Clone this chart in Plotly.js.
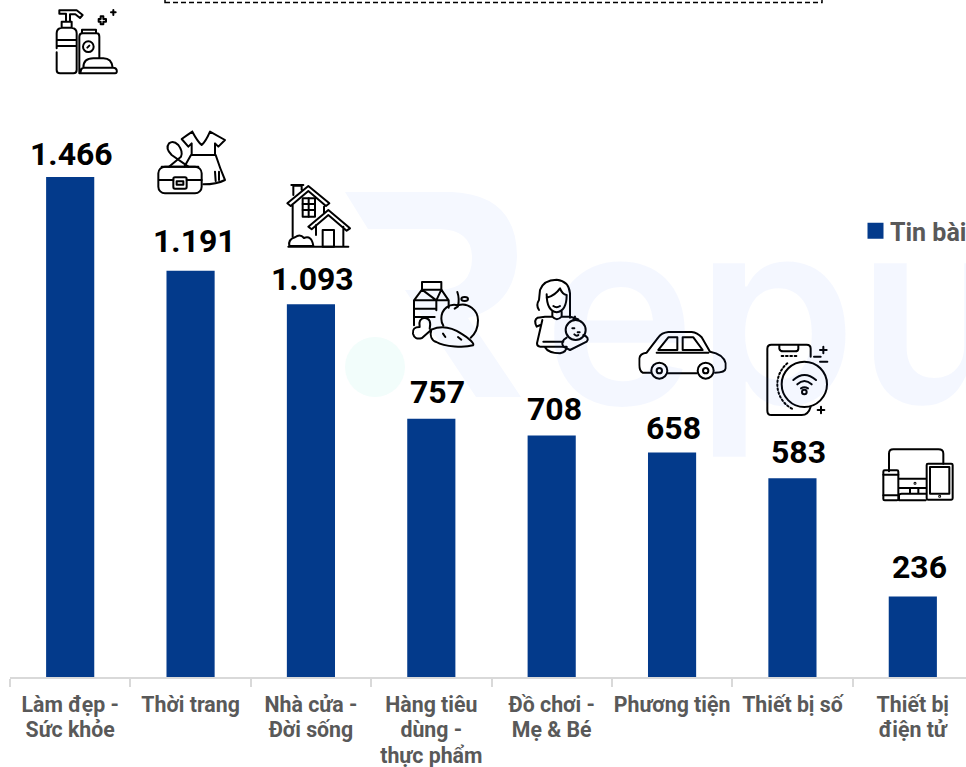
<!DOCTYPE html>
<html><head><meta charset="utf-8">
<script src="https://cdn.plot.ly/plotly-3.0.1.min.js"></script>
<style>html,body{margin:0;padding:0;background:#fff;overflow:hidden;width:966px;height:767px}#c{width:1040px;height:767px}</style>
</head><body><div id="c"></div>
<script>
// ---- data ----
const categories = ["Làm đẹp -<br>Sức khỏe","Thời trang","Nhà cửa -<br>Đời sống","Hàng tiêu<br>dùng -<br>thực phẩm","Đồ chơi -<br>Mẹ & Bé","Phương tiện","Thiết bị số","Thiết bị<br>điện tử"];
const seriesName = "Tin bài";
const values = [1466,1191,1093,757,708,658,583,236];

// ---- layout constants ----
const W=1040,H=767,L=10,R=67,T=0,B=90;
const px=x=>(x-L)/(W-L-R), py=y=>1-(y-T)/(H-T-B);
const labelDx=[1,3.5,1.5,6,3,1,6,6.5];
const labelDy=[23,30,25,27,27,25,26,30];
const fmt=v=>String(v).replace(/\B(?=(\d{3})+$)/g,'.');

// ---- icons: [pixel box x0,y0,x1,y1, viewBox, svg body] ----
const icons=[
[50,5,125,80,"0 0 225 225",`<path d="M28 26V16H80L98 30L90 39L76 28H60V50M28 26H48V50M35 68V50H65V68M20 130V85Q20 70 35 68H65Q80 70 80 85V195Q80 205 70 205H30Q20 205 20 195V142M20 105H80M20 123H80"/><path d="M88 205V95Q88 85 98 85H140Q148 85 148 95V160M96 85V74H138V85M88 205H195Q202 205 200 195Q198 188 190 188H100Q92 190 92 200M100 188Q100 160 130 160H160Q185 160 188 188"/><circle cx="115" cy="125" r="16"/><path d="M112 128L118 122M146 42H152V34H160V42H168V50H160V58H152V50H146Z"/><path d="M190 15V30M183 22H197"/>`],
[155,125,230,200,"0 0 225 225",`<path d="M112 20Q128 50 140 60Q152 50 165 20M112 20Q100 28 80 42L100 65L110 55V90M165 20L210 45L190 65L180 55V90M108 90H182M182 90Q195 130 210 165Q185 178 145 178M180 140L182 168M192 140V165M108 90L88 125"/><rect x="10" y="125" width="130" height="80" rx="20"/><path d="M12 165H55M95 165H140M20 125H130"/><rect x="55" y="157" width="40" height="34" rx="5"/><rect x="65" y="169" width="20" height="10"/><path d="M42 125L78 95Q85 80 70 60Q55 45 42 55Q30 70 50 90L100 125"/>`],
[280,180,355,255,"0 0 225 225",`<path d="M22 70L85 18L148 70L138 78L85 33L32 78ZM40 45V17H65V30M34 15H70M38 72V170M132 80V100"/><rect x="68" y="55" width="37" height="55"/><path d="M86 55V110M68 72H105M68 90H105"/><path d="M85 140L145 90L210 145L200 152L145 105L95 148ZM190 140V200M108 135V165M25 200H205"/><rect x="128" y="150" width="34" height="50"/><path d="M28 198Q24 178 45 172Q60 160 72 174Q95 165 100 198H28Z"/>`],
[408,277,483,352,"0 0 225 225",`<rect x="42" y="15" width="58" height="23"/><path d="M42 38L18 70V145M100 38L122 70V92M42 38L85 70V100M18 70H122M18 95H85M18 120H80M100 38L85 70"/><path d="M150 85C125 78 100 95 100 125C100 135 102 140 106 146M150 85C180 75 210 100 210 130C210 155 200 172 188 182M150 88Q155 65 148 45M150 88L140 95"/><ellipse cx="170" cy="66" rx="10" ry="6"/><path d="M70 158C100 145 130 150 160 170C185 185 200 200 195 205C170 212 110 210 85 195C70 190 65 175 70 158ZM70 158L42 183Q20 190 15 170Q12 150 35 150Q30 125 50 122Q72 125 65 155M105 170L112 180M150 180L160 188"/>`],
[525,275,595,355,"0 0 210 240",`<path d="M42 105Q32 90 42 75L45 45Q55 15 95 14Q132 18 135 55V128"/><path d="M65 58Q65 108 95 112Q125 108 125 60Q112 58 105 40Q90 62 65 68"/><path d="M85 93Q95 100 105 93M82 110V125Q95 140 110 125V110M60 125H80M112 125H135Q150 128 160 133M60 125L38 128Q25 135 35 155L46 150M52 135L36 205Q36 215 46 215H125M55 200H115M60 217Q70 235 105 235Q125 230 125 215"/><circle cx="152" cy="165" r="30"/><path d="M125 188Q105 200 115 215L135 225L185 200Q195 188 175 180M142 160L148 160M158 172L164 172M148 178Q155 185 160 180M145 135L150 125"/>`],
[638.3,329.3,726.7,381,"415 388 265 155",`<path d="M452 518H428Q418 512 418 495V475Q420 460 440 458L475 412Q485 398 505 396H575Q592 398 605 412L630 455Q670 462 677 490V505Q675 518 645 518M504 520H590M470 458H625"/><path d="M475 450L505 412H532V450ZM548 412H580L608 450H548Z"/><circle cx="478" cy="512" r="24"/><circle cx="478" cy="512" r="8"/><circle cx="617" cy="512" r="24"/><circle cx="617" cy="512" r="8"/>`],
[765,342,830,418,"795 426 195 228",`<path d="M932 470V446Q932 434 920 434H814Q802 434 802 446V632Q802 645 814 645H905Q925 645 932 620M838 436V446Q840 454 850 454H885Q895 454 895 446V436"/><path d="M845 468H892" stroke-dasharray="5 8"/><path d="M862 490A82 82 0 0 0 880 628" stroke-dasharray="5 7"/><circle cx="913" cy="553" r="68" fill="#fff"/><path d="M880 540Q913 510 948 540M892 553Q913 533 935 553"/><path d="M903 565Q913 558 924 565"/><circle cx="913" cy="576" r="7"/><path d="M970 440V460M960 450H980M963 620V640M953 630H973M942 470H962M960 485H982"/>`],
[875,442,960,507,"0 0 255 195",`<path d="M42 88V35Q42 22 55 22H190Q205 22 205 35V65M72 110H152M72 138H152M105 138V155M130 138V155M72 175V160Q72 155 80 155H152M72 175H152"/><rect x="25" y="85" width="45" height="90" rx="4"/><path d="M25 98H70M25 160H70"/><rect x="155" y="65" width="78" height="108" rx="4"/><rect x="165" y="75" width="58" height="80"/><circle cx="194" cy="163" r="1.5"/><circle cx="120" cy="124" r="1.5"/>`]
];
const images=icons.map(([x0,y0,x1,y1,vb,body])=>({
  source:'data:image/svg+xml;utf8,'+encodeURIComponent(`<svg xmlns="http://www.w3.org/2000/svg" viewBox="${vb}" width="${(x1-x0)*3}" height="${(y1-y0)*3}"><g fill="none" stroke="#000" stroke-width="6" stroke-linejoin="round" stroke-linecap="round">${body}</g></svg>`),
  xref:'paper',yref:'paper',x:px(x0),y:py(y0),sizex:px(x1)-px(x0),sizey:py(y0)-py(y1),
  xanchor:'left',yanchor:'top',sizing:'stretch',layer:'above'
}));

const annotations=[{
  xref:'paper',yref:'paper',x:px(541),y:py(310),xanchor:'left',yanchor:'middle',showarrow:false,
  text:'eputa',font:{family:'Inter',size:258,color:'rgba(60,110,255,0.055)',weight:600}
}].concat(values.map((v,i)=>({
  x:categories[i],y:v,xref:'x',yref:'y',text:fmt(v),showarrow:false,xanchor:'center',yanchor:'middle',
  xshift:labelDx[i],yshift:labelDy[i],
  font:{family:'Roboto',size:32,color:'#000',weight:700}
})));

const rPts=`M${px(345)} ${py(192)}L${px(452)} ${py(192)}Q${px(517)} ${py(195)} ${px(517)} ${py(257)}Q${px(515)} ${py(305)} ${px(468)} ${py(318)}L${px(521)} ${py(397)}L${px(476)} ${py(397)}L${px(405)} ${py(290)}L${px(440)} ${py(290)}Q${px(472)} ${py(288)} ${px(472)} ${py(258)}Q${px(472)} ${py(230)} ${px(440)} ${py(229)}L${px(368)} ${py(229)}Z`;
const shapes=[
 {type:'path',path:rPts,xref:'paper',yref:'paper',fillcolor:'#f5f8ff',line:{width:0},layer:'below'},
 {type:'circle',xref:'paper',yref:'paper',x0:px(345),x1:px(405),y0:py(397),y1:py(337),fillcolor:'#f2fdfb',line:{width:0},layer:'below'},
 {type:'rect',xref:'paper',yref:'paper',x0:px(165),x1:px(822),y0:py(2.6),y1:py(-10),fillcolor:'#fff',line:{color:'#000',width:1.5,dash:'5px,3px'}}
];

Plotly.newPlot('c',[{
  type:'bar',x:categories,y:values,name:seriesName,width:0.4,
  marker:{color:'#033a8b'},hoverinfo:'none'
}],{
  width:W,height:H,margin:{l:L,r:R,t:T,b:B,pad:0},
  paper_bgcolor:'rgba(0,0,0,0)',plot_bgcolor:'rgba(0,0,0,0)',
  showlegend:true,
  legend:{x:px(850),y:py(208),xanchor:'left',yanchor:'top',bgcolor:'rgba(0,0,0,0)',font:{family:'Roboto',size:25,color:'#595959',weight:700},itemclick:false},
  xaxis:{type:'category',range:[-0.5,7.5],tickson:'boundaries',ticks:'outside',ticklen:8,tickwidth:2,tickcolor:'#d9d9d9',showgrid:false,zeroline:false,ticklabelstandoff:7,
    showline:true,linecolor:'#d9d9d9',linewidth:2,fixedrange:true,tickfont:{family:'Roboto',size:21.3,color:'#595959',weight:700},tickangle:0,automargin:false},
  yaxis:{range:[0,677*1466/500],visible:false,fixedrange:true},
  images,annotations,shapes,
  font:{family:'Roboto'}
},{displayModeBar:false,staticPlot:true}).then(gd=>{
  gd.querySelectorAll('.xtick tspan.line').forEach(t=>{ const d=parseFloat(t.getAttribute('dy')||0); if(d) t.setAttribute('dy',(d/1.3*25.5)+'px'); });
  gd.querySelectorAll('.legendpoints path').forEach(p=>{ p.setAttribute('d','M8,8H-8V-8H8Z'); p.setAttribute('transform','translate(25.5,0)'); });
});
</script></body></html>
